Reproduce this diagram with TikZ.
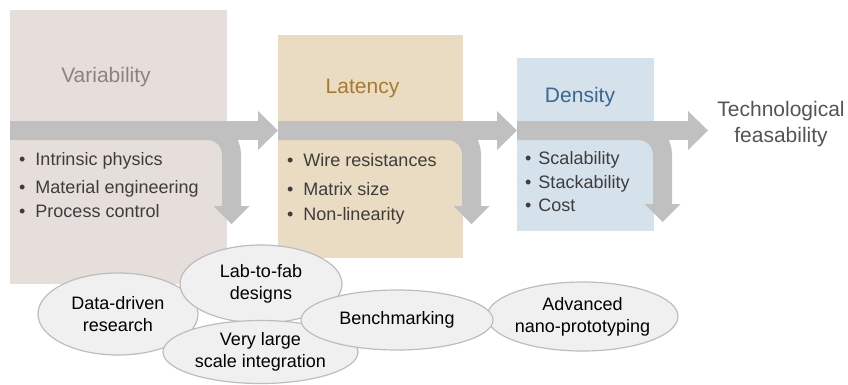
\documentclass[tikz,border=0pt]{standalone}
\usepackage{fontspec}
\setmainfont{Liberation Sans}
\usetikzlibrary{shapes.geometric,arrows.meta}
\definecolor{varfill}{HTML}{E6DEDA}
\definecolor{vartext}{HTML}{8A8481}
\definecolor{latfill}{HTML}{EADCC2}
\definecolor{lattext}{HTML}{A67B30}
\definecolor{denfill}{HTML}{D5E2EC}
\definecolor{dentext}{HTML}{3A6890}
\definecolor{flowgray}{HTML}{C0C0C0}
\definecolor{itemtext}{HTML}{3D3D3D}
\definecolor{blobfill}{HTML}{F0F0F0}
\definecolor{blobline}{HTML}{BDBDBD}

\begin{document}
\begin{tikzpicture}[x=1pt,y=-1pt,
  box/.style={anchor=north west,inner sep=0,draw=none},
  title/.style={anchor=base,inner sep=0,font=\fontsize{21}{25}\selectfont},
  item/.style={anchor=base west,inner sep=0,text=itemtext,font=\fontsize{18}{22}\selectfont},
  blob/.style={ellipse,draw=blobline,line width=1.2,fill=blobfill,inner xsep=-4pt,inner ysep=0,
    align=center,font=\fontsize{18}{22}\selectfont},
  flow/.style={draw=flowgray,line width=19.5,-{Triangle[length=20pt,width=39pt,line width=0pt]}},
  branch/.style={draw=flowgray,line width=19,rounded corners=24pt,-{Triangle[length=18pt,width=36pt,line width=0pt]}}]
  \useasboundingbox (0,0) rectangle (848,384);
  % the three columns
  \node[box,fill=varfill,minimum width=217,minimum height=274] (var) at (10,10) {};
  \node[box,fill=latfill,minimum width=185,minimum height=223] (lat) at (278,35) {};
  \node[box,fill=denfill,minimum width=137,minimum height=173] (den) at (517,58) {};
  \node[title,text=vartext] (vart) at (106,82) {Variability};
  \node[title,text=lattext] (latt) at (362.5,93) {Latency};
  \node[title,text=dentext] (dent) at (580,102) {Density};
  \node[align=center,text=black!67,font=\fontsize{21}{26}\selectfont] (goal) at (781,124) {Technological\\feasability};
  % arrows
  \coordinate (band) at (0,130.5);
  \coordinate (vdrop) at (231.5,224);
  \coordinate (ldrop) at (471.5,224);
  \coordinate (ddrop) at (662.5,222);
  \coordinate (feas) at (708,130.5);
  \draw[branch] (var.west |- band) -- (vdrop |- band) -- (vdrop);
  \draw[branch] (lat.west |- band) -- (ldrop |- band) -- (ldrop);
  \draw[branch] (den.west |- band) -- (ddrop |- band) -- (ddrop);
  \draw[flow] (var.west |- band) -- (lat.west |- band);
  \draw[flow] (lat.west |- band) -- (den.west |- band);
  \draw[flow] (den.west |- band) -- (feas);
  % bullet lists
  \foreach \n/\t/\y in {1/Intrinsic physics/165,2/Material engineering/193,3/Process control/217}
    \node[item] (vi\n) at (19,\y) {\textbullet\hspace{10pt}\t};
  \foreach \n/\t/\y in {1/Wire resistances/166.5,2/Matrix size/195,3/Non-linearity/220}
    \node[item] (li\n) at (287,\y) {\textbullet\hspace{10pt}\t};
  \foreach \n/\t/\y in {1/Scalability/164,2/Stackability/188,3/Cost/211}
    \node[item] (di\n) at (525,\y) {\textbullet\hspace{7pt}\t};
  % enablers
  \node[blob,minimum width=160,minimum height=82] (data) at (118,314) {Data-driven\\research};
  \node[blob,minimum width=162,minimum height=78] (lab) at (261,284) {Lab-to-fab\\designs};
  \node[blob,minimum width=195,minimum height=63] (vlsi) at (260.5,352) {Very large\\scale integration};
  \node[blob,minimum width=191,minimum height=69] (nano) at (582.5,316.5) {Advanced\\nano-prototyping};
  \node[blob,minimum width=192,minimum height=60] (bench) at (397,320) {Benchmarking};
\end{tikzpicture}
\end{document}
